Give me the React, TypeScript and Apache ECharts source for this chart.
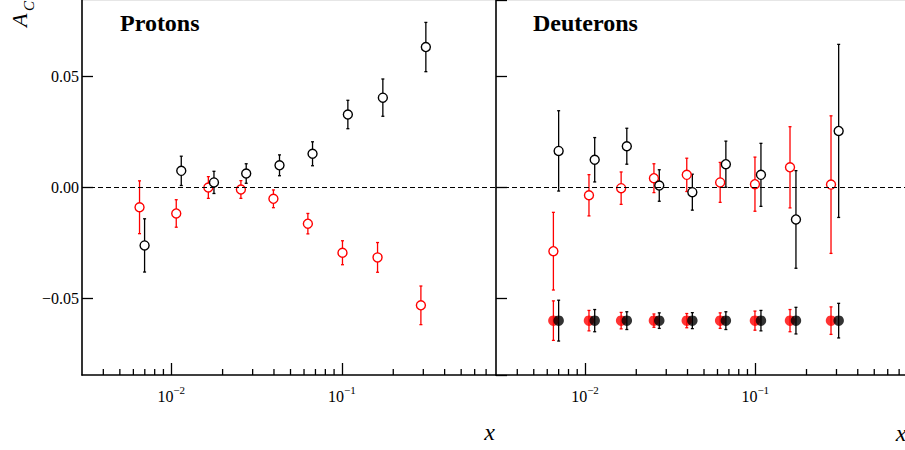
import React, { useEffect, useRef } from 'react';
import * as echarts from 'echarts';

const FONT = 'Liberation Serif';

// ---- axis ranges & ticks ----
const X_MIN = 0.003;
const X_MAX = 0.8;
const Y_MIN = -0.0845;
const Y_MAX = 0.0845;
const xMajorTicks = [0.01, 0.1];
const xMajorLabels = ['{b|10}{s|−2}', '{b|10}{s|−1}'];
const xMinorTicks = [0.004, 0.005, 0.006, 0.007, 0.008, 0.009, 0.02, 0.03, 0.04, 0.05, 0.06, 0.07, 0.08, 0.09, 0.2, 0.3, 0.4, 0.5, 0.6, 0.7];
const yTickValues = [-0.05, 0, 0.05];
const yTickLabels = ['−0.05', '0.00', '0.05'];

// ---- Protons ----
const pBlackX = [0.00698, 0.01145, 0.0178, 0.0275, 0.0431, 0.0673, 0.1084, 0.1738, 0.3105];
const pBlackY = [-0.0261, 0.0075, 0.0023, 0.0063, 0.01, 0.0152, 0.0329, 0.0405, 0.0633];
const pBlackErr = [0.012, 0.0066, 0.005, 0.0044, 0.0047, 0.0054, 0.0064, 0.0084, 0.0111];

const pRedX = [0.00652, 0.0107, 0.0165, 0.0256, 0.0397, 0.0632, 0.1008, 0.1618, 0.2904];
const pRedY = [-0.0089, -0.0117, 0.0, -0.0009, -0.0051, -0.0163, -0.0294, -0.0315, -0.0531];
const pRedErr = [0.0119, 0.0062, 0.0049, 0.004, 0.004, 0.0046, 0.0054, 0.0067, 0.0087];

// ---- Deuterons ----
const dBlackX = [0.007, 0.0114, 0.0176, 0.0273, 0.0427, 0.0672, 0.108, 0.1734, 0.309];
const dBlackY = [0.0165, 0.0125, 0.0186, 0.0009, -0.0021, 0.0105, 0.0057, -0.0144, 0.0255];
const dBlackErr = [0.0181, 0.01, 0.0081, 0.0071, 0.0081, 0.0104, 0.0142, 0.022, 0.039];

const dRedX = [0.00652, 0.01055, 0.0163, 0.0254, 0.0396, 0.0622, 0.0996, 0.16, 0.2786];
const dRedY = [-0.0287, -0.0035, -0.0003, 0.0042, 0.0057, 0.0023, 0.0015, 0.0091, 0.0013];
const dRedErr = [0.0175, 0.0093, 0.0073, 0.0065, 0.0075, 0.009, 0.0122, 0.0183, 0.031];

// systematic uncertainties (drawn at a fixed level)
const sysLevel = -0.06;
const dRedSysErr = [0.0089, 0.0046, 0.0037, 0.003, 0.0032, 0.0035, 0.0043, 0.005, 0.0062];
const dBlackSysErr = [0.0092, 0.005, 0.004, 0.0035, 0.0036, 0.004, 0.0046, 0.006, 0.0078];

const RED = '#ff0000';
const BLACK = '#000000';

const errRender = (color: string) => (params: any, api: any) => {
  const x = api.value(0);
  const lo = api.coord([x, api.value(1)]);
  const hi = api.coord([x, api.value(2)]);
  const c = 1.5;
  const style = { stroke: color, lineWidth: 1.3, fill: null };
  return {
    type: 'group',
    children: [
      { type: 'line', shape: { x1: lo[0], y1: lo[1], x2: hi[0], y2: hi[1] }, style },
      { type: 'line', shape: { x1: lo[0] - c, y1: lo[1], x2: lo[0] + c, y2: lo[1] }, style },
      { type: 'line', shape: { x1: hi[0] - c, y1: hi[1], x2: hi[0] + c, y2: hi[1] }, style },
    ],
  };
};

const minorTickRender = (params: any, api: any) => {
  const x = api.coord([api.value(0), 0])[0];
  const cs = params.coordSys;
  const yb = cs.y + cs.height;
  return {
    type: 'line',
    shape: { x1: x, y1: yb, x2: x, y2: yb - 6 },
    style: { stroke: BLACK, lineWidth: 1.3 },
  };
};

const errSeries = (g: number, xs: number[], ys: number[], es: number[], color: string) => ({
  type: 'custom',
  xAxisIndex: g,
  yAxisIndex: g,
  renderItem: errRender(color),
  encode: { x: 0, y: [1, 2] },
  data: xs.map((x, i) => [x, ys[i] - es[i], ys[i] + es[i]]),
  silent: true,
});

const ptSeries = (g: number, xs: number[], ys: number[], color: string, filled: boolean) => ({
  type: 'scatter',
  xAxisIndex: g,
  yAxisIndex: g,
  symbol: 'circle',
  symbolSize: filled ? 10.5 : 9,
  itemStyle: filled
    ? { color, borderWidth: 0 }
    : { color: '#ffffff', borderColor: color, borderWidth: 1.4, opacity: 1 },
  data: xs.map((x, i) => [x, ys[i]]),
  silent: true,
});

const zeroLine = (g: number) => ({
  type: 'scatter',
  xAxisIndex: g,
  yAxisIndex: g,
  data: [],
  markLine: {
    silent: true,
    symbol: ['none', 'none'],
    label: { show: false },
    lineStyle: { type: [5, 3], color: BLACK, width: 1.2 },
    data: [{ yAxis: 0 }],
  },
});

const minorTicks = (g: number) => ({
  type: 'custom',
  xAxisIndex: g,
  yAxisIndex: g,
  renderItem: minorTickRender,
  encode: { x: 0, y: 1 },
  data: xMinorTicks.map((v) => [v, 0]),
  silent: true,
});

const xLabelFormatter = (v: number) => {
  const idx = xMajorTicks.findIndex((t) => Math.abs(Math.log10(v) - Math.log10(t)) < 1e-6);
  return idx >= 0 ? xMajorLabels[idx] : '';
};

const yLabelFormatter = (v: number) => {
  const idx = yTickValues.findIndex((t) => Math.abs(v - t) < 1e-9);
  return idx >= 0 ? yTickLabels[idx] : '';
};

const axisLineStyle = { color: BLACK, width: 1.6 };

const makeX = (g: number) => ({
  type: 'log',
  logBase: 10,
  gridIndex: g,
  min: X_MIN,
  max: X_MAX,
  axisLine: { show: true, onZero: false, lineStyle: axisLineStyle },
  axisTick: { show: true, inside: true, length: 12, lineStyle: { color: BLACK, width: 1.3 } },
  minorTick: { show: false },
  splitLine: { show: false },
  axisLabel: {
    show: true,
    showMinLabel: false,
    showMaxLabel: false,
    margin: 9,
    fontFamily: FONT,
    fontSize: 16,
    color: BLACK,
    formatter: xLabelFormatter,
    rich: {
      b: { fontFamily: FONT, fontSize: 16, color: BLACK, lineHeight: 20, verticalAlign: 'bottom' },
      s: { fontFamily: FONT, fontSize: 11, color: BLACK, lineHeight: 6, verticalAlign: 'top' },
    },
  },
});

const makeY = (g: number) => ({
  type: 'value',
  gridIndex: g,
  min: Y_MIN,
  max: Y_MAX,
  splitNumber: 3,
  axisLine: { show: true, onZero: false, lineStyle: axisLineStyle },
  axisTick: { show: true, inside: true, length: 11, lineStyle: { color: BLACK, width: 1.3 } },
  splitLine: { show: false },
  axisLabel: {
    show: g === 0,
    showMinLabel: false,
    showMaxLabel: false,
    margin: 3,
    fontFamily: FONT,
    fontSize: 16,
    color: BLACK,
    formatter: yLabelFormatter,
  },
});

const option: any = {
  animation: false,
  backgroundColor: '#ffffff',
  textStyle: { fontFamily: FONT },
  grid: [
    { left: 82, top: 0, width: 414, height: 375, outerBoundsMode: 'none', containLabel: false },
    { left: 496, top: 0, width: 413, height: 375, outerBoundsMode: 'none', containLabel: false },
  ],
  xAxis: [makeX(0), makeX(1)],
  yAxis: [makeY(0), makeY(1)],
  series: [
    zeroLine(0),
    minorTicks(0),
    errSeries(0, pRedX, pRedY, pRedErr, RED),
    ptSeries(0, pRedX, pRedY, RED, false),
    errSeries(0, pBlackX, pBlackY, pBlackErr, BLACK),
    ptSeries(0, pBlackX, pBlackY, BLACK, false),

    zeroLine(1),
    minorTicks(1),
    errSeries(1, dRedX, dRedY, dRedErr, RED),
    ptSeries(1, dRedX, dRedY, RED, false),
    errSeries(1, dBlackX, dBlackY, dBlackErr, BLACK),
    ptSeries(1, dBlackX, dBlackY, BLACK, false),
    errSeries(1, dRedX, dRedX.map(() => sysLevel), dRedSysErr, RED),
    ptSeries(1, dRedX, dRedX.map(() => sysLevel), RED, true),
    errSeries(1, dBlackX, dBlackX.map(() => sysLevel), dBlackSysErr, BLACK),
    ptSeries(1, dBlackX, dBlackX.map(() => sysLevel), BLACK, true),
  ],
  graphic: [
    { type: 'line', shape: { x1: 82, y1: 0.5, x2: 905, y2: 0.5 }, style: { stroke: '#e6e6e6', lineWidth: 1 }, silent: true },
    {
      type: 'text', x: 120, y: 23,
      style: { text: 'Protons', fontFamily: FONT, fontSize: 24, fontWeight: 'bold', fill: BLACK, align: 'left', verticalAlign: 'middle', textAlign: 'left', textVerticalAlign: 'middle' },
    },
    {
      type: 'text', x: 533, y: 23,
      style: { text: 'Deuterons', fontFamily: FONT, fontSize: 24, fontWeight: 'bold', fill: BLACK, align: 'left', verticalAlign: 'middle', textAlign: 'left', textVerticalAlign: 'middle' },
    },
    {
      type: 'text', x: 19, y: 27, rotation: Math.PI / 2,
      style: { text: 'A', fontFamily: FONT, fontSize: 22, fontStyle: 'italic', fill: BLACK, align: 'left', verticalAlign: 'middle', textAlign: 'left', textVerticalAlign: 'middle' },
    },
    {
      type: 'text', x: 28.5, y: 11, rotation: Math.PI / 2,
      style: { text: 'C', fontFamily: FONT, fontSize: 15, fontStyle: 'italic', fill: BLACK, align: 'left', verticalAlign: 'middle', textAlign: 'left', textVerticalAlign: 'middle' },
    },
    {
      type: 'text', x: 489.5, y: 432,
      style: { text: 'x', fontFamily: FONT, fontSize: 24, fontStyle: 'italic', fill: BLACK, align: 'center', verticalAlign: 'middle', textAlign: 'center', textVerticalAlign: 'middle' },
    },
    {
      type: 'text', x: 901, y: 433,
      style: { text: 'x', fontFamily: FONT, fontSize: 24, fontStyle: 'italic', fill: BLACK, align: 'center', verticalAlign: 'middle', textAlign: 'center', textVerticalAlign: 'middle' },
    },
  ],
};

export default function App() {
  const ref = useRef<HTMLDivElement>(null);
  useEffect(() => {
    const chart = echarts.init(ref.current as HTMLDivElement, null, { renderer: 'svg' });
    chart.setOption(option);
    return () => {
      chart.dispose();
    };
  }, []);
  return (
    <div
      ref={ref}
      style={{ position: 'absolute', left: 0, top: 0, width: 905, height: 450, background: '#fff' }}
    />
  );
}
